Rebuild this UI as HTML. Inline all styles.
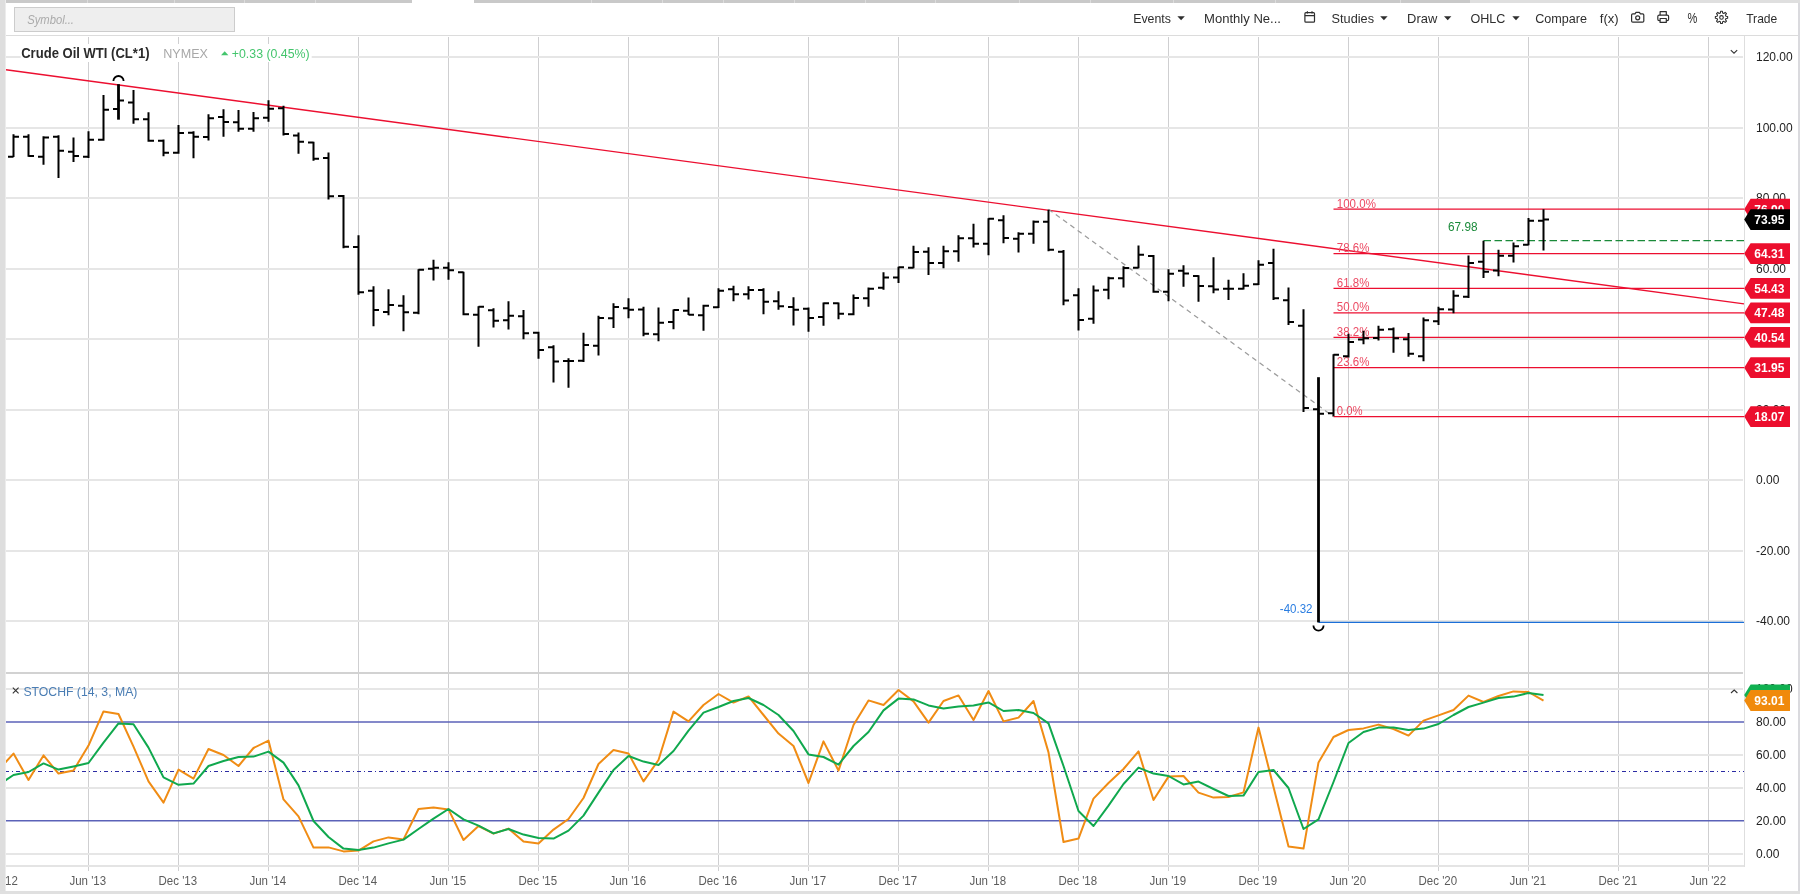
<!DOCTYPE html>
<html lang="en"><head><meta charset="utf-8"><title>Crude Oil WTI (CL*1) chart</title>
<style>html,body{margin:0;padding:0;background:#fff;overflow:hidden}svg{display:block;will-change:transform;opacity:.9999}</style>
</head><body>
<svg width="1800" height="894" viewBox="0 0 1800 894" font-family='"Liberation Sans", Arial, sans-serif'>
<rect width="1800" height="894" fill="#fff"/>
<g shape-rendering="crispEdges">
<rect x="88" y="37" width="1" height="834" fill="#cfcfd1"/>
<rect x="178" y="37" width="1" height="834" fill="#cfcfd1"/>
<rect x="268" y="37" width="1" height="834" fill="#cfcfd1"/>
<rect x="358" y="37" width="1" height="834" fill="#cfcfd1"/>
<rect x="448" y="37" width="1" height="834" fill="#cfcfd1"/>
<rect x="538" y="37" width="1" height="834" fill="#cfcfd1"/>
<rect x="628" y="37" width="1" height="834" fill="#cfcfd1"/>
<rect x="718" y="37" width="1" height="834" fill="#cfcfd1"/>
<rect x="808" y="37" width="1" height="834" fill="#cfcfd1"/>
<rect x="898" y="37" width="1" height="834" fill="#cfcfd1"/>
<rect x="988" y="37" width="1" height="834" fill="#cfcfd1"/>
<rect x="1078" y="37" width="1" height="834" fill="#cfcfd1"/>
<rect x="1168" y="37" width="1" height="834" fill="#cfcfd1"/>
<rect x="1258" y="37" width="1" height="834" fill="#cfcfd1"/>
<rect x="1348" y="37" width="1" height="834" fill="#cfcfd1"/>
<rect x="1438" y="37" width="1" height="834" fill="#cfcfd1"/>
<rect x="1528" y="37" width="1" height="834" fill="#cfcfd1"/>
<rect x="1618" y="37" width="1" height="834" fill="#cfcfd1"/>
<rect x="1708" y="37" width="1" height="834" fill="#cfcfd1"/>
<rect x="6" y="56" width="1737" height="2" fill="#e6e6e6"/>
<rect x="6" y="127" width="1737" height="2" fill="#e6e6e6"/>
<rect x="6" y="197" width="1737" height="2" fill="#e6e6e6"/>
<rect x="6" y="268" width="1737" height="2" fill="#e6e6e6"/>
<rect x="6" y="338" width="1737" height="2" fill="#e6e6e6"/>
<rect x="6" y="409" width="1737" height="2" fill="#e6e6e6"/>
<rect x="6" y="479" width="1737" height="2" fill="#e6e6e6"/>
<rect x="6" y="550" width="1737" height="2" fill="#e6e6e6"/>
<rect x="6" y="620" width="1737" height="2" fill="#e6e6e6"/>
<rect x="6" y="688" width="1737" height="2" fill="#e6e6e6"/>
<rect x="6" y="754" width="1737" height="2" fill="#e6e6e6"/>
<rect x="6" y="787" width="1737" height="2" fill="#e6e6e6"/>
<rect x="6" y="853" width="1737" height="2" fill="#e6e6e6"/>
<rect x="6" y="672" width="1737" height="2" fill="#d2d2d2"/>
<rect x="6" y="865" width="1738" height="2" fill="#e4e4e4"/>
<rect x="1744" y="36" width="1" height="831" fill="#dedede"/>
</g>
<line x1="6" x2="1744" y1="721.9" y2="721.9" stroke="#5b62b8" stroke-width="1.5"/>
<line x1="6" x2="1744" y1="820.7" y2="820.7" stroke="#5b62b8" stroke-width="1.5"/>
<line x1="5" x2="1744" y1="771.5" y2="771.5" stroke="#2c2ca4" stroke-width="1.1" stroke-dasharray="4 3 1 3"/>
<line x1="6" y1="69.8" x2="1744" y2="303.9" stroke="#ec0f30" stroke-width="1.4"/>
<line x1="1048.5" y1="209.23" x2="1333.5" y2="416.60" stroke="#9c9c9c" stroke-width="1.25" stroke-dasharray="5 4"/>
<line x1="1333.5" x2="1744" y1="209.23" y2="209.23" stroke="#ec0f30" stroke-width="1.25"/>
<text x="1336.8" y="207.63" font-size="12.4" fill="#ec4a63" textLength="39.1" lengthAdjust="spacingAndGlyphs">100.0%</text>
<line x1="1333.5" x2="1744" y1="253.61" y2="253.61" stroke="#ec0f30" stroke-width="1.25"/>
<text x="1336.8" y="252.01" font-size="12.4" fill="#ec4a63" textLength="32.6" lengthAdjust="spacingAndGlyphs">78.6%</text>
<line x1="1333.5" x2="1744" y1="288.43" y2="288.43" stroke="#ec0f30" stroke-width="1.25"/>
<text x="1336.8" y="286.83" font-size="12.4" fill="#ec4a63" textLength="32.6" lengthAdjust="spacingAndGlyphs">61.8%</text>
<line x1="1333.5" x2="1744" y1="312.93" y2="312.93" stroke="#ec0f30" stroke-width="1.25"/>
<text x="1336.8" y="311.33" font-size="12.4" fill="#ec4a63" textLength="32.6" lengthAdjust="spacingAndGlyphs">50.0%</text>
<line x1="1333.5" x2="1744" y1="337.40" y2="337.40" stroke="#ec0f30" stroke-width="1.25"/>
<text x="1336.8" y="335.80" font-size="12.4" fill="#ec4a63" textLength="32.6" lengthAdjust="spacingAndGlyphs">38.2%</text>
<line x1="1333.5" x2="1744" y1="367.68" y2="367.68" stroke="#ec0f30" stroke-width="1.25"/>
<text x="1336.8" y="366.08" font-size="12.4" fill="#ec4a63" textLength="32.6" lengthAdjust="spacingAndGlyphs">23.6%</text>
<line x1="1333.5" x2="1744" y1="416.60" y2="416.60" stroke="#ec0f30" stroke-width="1.25"/>
<text x="1336.8" y="415.00" font-size="12.4" fill="#ec4a63" textLength="25.8" lengthAdjust="spacingAndGlyphs">0.0%</text>
<line x1="1483.5" x2="1744" y1="240.67" y2="240.67" stroke="#1a8a3a" stroke-width="1.2" stroke-dasharray="7.5 3.5"/>
<text x="1477.5" y="230.8" font-size="12.4" fill="#1a8a3a" text-anchor="end" textLength="29.5" lengthAdjust="spacingAndGlyphs">67.98</text>
<line x1="1318.5" x2="1744" y1="622.43" y2="622.43" stroke="#1b6fd8" stroke-width="1.3"/>
<text x="1312.5" y="612.6" font-size="12.4" fill="#2a7de1" text-anchor="end" textLength="32.7" lengthAdjust="spacingAndGlyphs">-40.32</text>
<path d="M13.5 134.17V157M8 156.67H13.5M13.5 136.67H19M28.5 134.17V156.67M23 136.67H28.5M28.5 156H34M43.5 136.33V164.67M38 156.67H43.5M43.5 137.5H49M58.5 135.33V178M53 136.67H58.5M58.5 150.83H64M73.5 137.5V162M68 151.67H73.5M73.5 156H79M88.5 131.17V158M83 156.67H88.5M88.5 139.67H94M103.5 95V140.83M98 139.67H103.5M103.5 109.67H109M133.5 90V123.67M128 102.5H133.5M133.5 119.33H139M148.5 112.17V141.67M143 119.33H148.5M148.5 140.83H154M163.5 139.5V156.33M158 140.67H163.5M163.5 152.83H169M178.5 125V153.83M173 152.83H178.5M178.5 133H184M193.5 131.17V158.33M188 132.67H193.5M193.5 136.67H199M208.5 114.17V140.5M203 137H208.5M208.5 118.33H214M223.5 109.33V136.67M218 117H223.5M223.5 122H229M238.5 110V131.67M233 122.17H238.5M238.5 128.67H244M253.5 112V131.67M248 128.67H253.5M253.5 118.17H259M268.5 100.33V121.67M263 117.67H268.5M268.5 108.67H274M283.5 105.83V135.5M278 108.33H283.5M283.5 134H289M298.5 132.5V153.67M293 135.5H298.5M298.5 141.67H304M313.5 141.67V160.83M308 142.5H313.5M313.5 158.67H319M328.5 152.5V199.5M323 158H328.5M328.5 196.33H334M343.5 195V248.33M338 196H343.5M343.5 246.67H349M358.5 235.33V294.67M353 247H358.5M358.5 292.17H364M373.5 286.33V326.17M368 290.83H373.5M373.5 310H379M388.5 289.17V315.33M383 312H388.5M388.5 305H394M403.5 295.33V331.33M398 305.67H403.5M403.5 312.17H409M418.5 269.17V314.17M413 312.83H418.5M418.5 269.67H424M433.5 259.67V280.5M428 268.83H433.5M433.5 267.83H439M448.5 262.17V279.67M443 267.67H448.5M448.5 270.33H454M463.5 271.67V315.33M458 272.17H463.5M463.5 314.17H469M478.5 306.17V346.67M473 314.83H478.5M478.5 306.67H484M493.5 308.33V327.5M488 310.33H493.5M493.5 320.83H499M508.5 301.17V329.5M503 320.17H508.5M508.5 315.67H514M523.5 310V339.17M518 316.33H523.5M523.5 333.33H529M538.5 331.67V358.83M533 332.83H538.5M538.5 350H544M553.5 345.33V382.5M548 347.17H553.5M553.5 361.5H559M568.5 358.33V387.83M563 361H568.5M568.5 361H574M583.5 332.83V362M578 360.67H583.5M583.5 345H589M598.5 315.83V355.5M593 345.83H598.5M598.5 318H604M613.5 303.33V328M608 318.33H613.5M613.5 307H619M628.5 298.33V318.33M623 308.17H628.5M628.5 309.67H634M643.5 306.67V336.33M638 309.5H643.5M643.5 333.67H649M658.5 307.5V341.33M653 334.33H658.5M658.5 322.67H664M673.5 309.5V329.17M668 322H673.5M673.5 310H679M688.5 297.5V315M683 310.67H688.5M688.5 314.67H694M703.5 304.67V330.83M698 315.17H703.5M703.5 305.83H709M718.5 288.33V308M713 307.33H718.5M718.5 290.83H724M733.5 285.83V301.17M728 289.17H733.5M733.5 294.17H739M748.5 286.33V299.5M743 294.17H748.5M748.5 290H754M763.5 288.33V314.17M758 290H763.5M763.5 301.67H769M778.5 291.17V309.67M773 301.17H778.5M778.5 306.17H784M793.5 297.33V325.5M788 307H793.5M793.5 309.67H799M808.5 307.5V331.67M803 308.67H808.5M808.5 318H814M823.5 302.5V325.83M818 317H823.5M823.5 303.33H829M838.5 302.5V319.17M833 303.33H838.5M838.5 313.83H844M853.5 294.5V315.33M848 314.17H853.5M853.5 298H859M868.5 287.5V306.67M863 298.33H868.5M868.5 288.67H874M883.5 272.17V289.67M878 287.67H883.5M883.5 277.5H889M898.5 266.67V283M893 277.5H898.5M898.5 267.17H904M913.5 245.83V268.33M908 267.67H913.5M913.5 252H919M928.5 247.17V275M923 251.67H928.5M928.5 263H934M943.5 245.83V268.33M938 263H943.5M943.5 251.17H949M958.5 235.33V261.67M953 251.33H958.5M958.5 238.33H964M973.5 223.67V247.5M968 238.33H973.5M973.5 243.83H979M988.5 218.33V255.33M983 243.67H988.5M988.5 218.83H994M1003.5 215.33V243.33M998 220.33H1003.5M1003.5 238H1009M1018.5 232.17V252.5M1013 238.83H1018.5M1018.5 233.83H1024M1033.5 220.5V243.83M1028 233.83H1033.5M1033.5 221.67H1039M1048.5 209.67V251.17M1043 221.67H1048.5M1048.5 249.67H1054M1063.5 250V305.33M1058 251.67H1063.5M1063.5 300.5H1069M1078.5 288.33V330.5M1073 295.17H1078.5M1078.5 320H1084M1093.5 285.5V323.67M1088 318.83H1093.5M1093.5 290.5H1099M1108.5 276.67V299.17M1103 289.67H1108.5M1108.5 278.33H1114M1123.5 266.33V287.5M1118 278.33H1123.5M1123.5 268H1129M1138.5 245.5V268.33M1133 267.83H1138.5M1138.5 254.67H1144M1153.5 255V292.83M1148 256H1153.5M1153.5 291.67H1159M1168.5 269.17V301.33M1163 291.83H1168.5M1168.5 273.67H1174M1183.5 265.33V286.67M1178 270.83H1183.5M1183.5 273.5H1189M1198.5 275.33V301.67M1193 276H1198.5M1198.5 286H1204M1213.5 257.17V293.33M1208 286.17H1213.5M1213.5 289.5H1219M1228.5 279.67V300M1223 288.67H1228.5M1228.5 288.67H1234M1243.5 273.33V289.5M1238 288.83H1243.5M1243.5 285.83H1249M1258.5 260.33V285M1253 284.33H1258.5M1258.5 264.67H1264M1273.5 248.83V300M1268 263H1273.5M1273.5 298.33H1279M1288.5 287.5V325M1283 300.33H1288.5M1288.5 322H1294M1303.5 309.17V412M1298 325.83H1303.5M1303.5 408H1309M1333.5 354.17V416.33M1328 413.33H1333.5M1333.5 354.67H1339M1348.5 333.67V357.5M1343 356.33H1348.5M1348.5 342H1354M1363.5 330.83V344.17M1358 339.5H1363.5M1363.5 338.33H1369M1378.5 325.83V340.5M1373 338H1378.5M1378.5 329.67H1384M1393.5 327.5V352.83M1388 329.17H1393.5M1393.5 338.33H1399M1408.5 333V356.67M1403 339.17H1408.5M1408.5 353.83H1414M1423.5 317.5V361.33M1418 356.17H1423.5M1423.5 320.33H1429M1438.5 306.67V325M1433 321.33H1438.5M1438.5 309.17H1444M1453.5 290.33V313.33M1448 309.5H1453.5M1453.5 295.83H1459M1468.5 255.5V298M1463 296.67H1468.5M1468.5 263H1474M1483.5 240.83V278M1478 261.67H1483.5M1483.5 271.67H1489M1498.5 249.67V276.33M1493 270.5H1498.5M1498.5 255.83H1504M1513.5 242.5V262.5M1508 255.83H1513.5M1513.5 246.33H1519M1528.5 218V245.33M1523 244.67H1528.5M1528.5 220.83H1534M1543.5 209.17V250.5M1538 220.83H1543.5M1543.5 219.5H1549" stroke="#000" stroke-width="2" fill="none"/>
<path d="M118.5 84.17V119.67" stroke="#000" stroke-width="2.8" fill="none"/>
<path d="M113 109H118.5M118.5 100.5H124" stroke="#000" stroke-width="2" fill="none"/>
<path d="M1318.5 377.2V622.4" stroke="#000" stroke-width="2.8" fill="none"/>
<path d="M1313 409.2H1318.5M1318.5 413.7H1324" stroke="#000" stroke-width="2" fill="none"/>
<path d="M113.4 81.1A5.1 5.1 0 0 1 123.6 81.1" stroke="#000" stroke-width="1.8" fill="none"/>
<path d="M1313.4 625.5A5.1 5.1 0 0 0 1323.6 625.5" stroke="#000" stroke-width="1.8" fill="none"/>
<defs><clipPath id="cl"><rect x="6" y="674" width="1738" height="192"/></clipPath></defs>
<polyline points="-1.5,770 13.5,753.6 28.5,780 43.5,755.4 58.5,773.6 73.5,770.4 88.5,745.6 103.5,711.4 118.5,714 133.5,746.6 148.5,781.4 163.5,802.6 178.5,769.6 193.5,778.6 208.5,749 223.5,755 238.5,766 253.5,748 268.5,740.6 283.5,799.4 298.5,816.4 313.5,847.6 328.5,847.4 343.5,851.4 358.5,850.6 373.5,841.4 388.5,837.4 403.5,839.4 418.5,809 433.5,807.4 448.5,809.4 463.5,840 478.5,826 493.5,833.6 508.5,828.6 523.5,841.6 538.5,843.6 553.5,829.6 568.5,819 583.5,798 598.5,764 613.5,750 628.5,753.4 643.5,781.4 658.5,760 673.5,711.6 688.5,721.4 703.5,705 718.5,694 733.5,702.6 748.5,696.4 763.5,715 778.5,733.6 793.5,746 808.5,783 823.5,741.4 838.5,770.6 853.5,725 868.5,700.4 883.5,705 898.5,690 913.5,701.4 928.5,722.6 943.5,701 958.5,695.4 973.5,720 988.5,691 1003.5,721.4 1018.5,717.6 1033.5,701 1048.5,752.4 1063.5,842 1078.5,838.6 1093.5,798.6 1108.5,783 1123.5,769 1138.5,751.4 1153.5,800 1168.5,776.6 1183.5,776 1198.5,792.6 1213.5,797.6 1228.5,797 1243.5,792.4 1258.5,727.6 1273.5,787 1288.5,846.6 1303.5,848.6 1318.5,762.4 1333.5,737 1348.5,730 1363.5,728.4 1378.5,724.6 1393.5,729 1408.5,735.6 1423.5,720.6 1438.5,715.4 1453.5,710 1468.5,695.6 1483.5,702 1498.5,696 1513.5,691.4 1528.5,692 1543.5,700.6" stroke="#f08c14" stroke-width="2" fill="none" stroke-linejoin="round" clip-path="url(#cl)"/>
<polyline points="-1.5,785 13.5,775 28.5,772 43.5,763.4 58.5,769.6 73.5,766.4 88.5,763 103.5,742.6 118.5,723.4 133.5,724.2 148.5,747.6 163.5,777.4 178.5,784.8 193.5,783.6 208.5,766 223.5,761 238.5,757 253.5,756.6 268.5,751.6 283.5,762.6 298.5,785.4 313.5,821 328.5,837 343.5,848.6 358.5,850 373.5,847.6 388.5,843.4 403.5,839.6 418.5,829 433.5,818.6 448.5,809 463.5,819.4 478.5,825.6 493.5,833.4 508.5,829 523.5,834.6 538.5,838 553.5,838.6 568.5,830.6 583.5,815.6 598.5,792.6 613.5,770 628.5,756 643.5,761.6 658.5,765 673.5,751 688.5,730.6 703.5,712.6 718.5,707 733.5,701 748.5,698 763.5,705 778.5,715 793.5,731 808.5,754.4 823.5,757 838.5,764.6 853.5,746 868.5,732 883.5,710.4 898.5,698.6 913.5,699.4 928.5,705.4 943.5,708.6 958.5,706.6 973.5,705.6 988.5,702.4 1003.5,711 1018.5,710 1033.5,713 1048.5,723.4 1063.5,766 1078.5,811 1093.5,826 1108.5,805.6 1123.5,784 1138.5,767.6 1153.5,773.6 1168.5,776 1183.5,784.4 1198.5,781.6 1213.5,789 1228.5,796 1243.5,795.6 1258.5,772 1273.5,770 1288.5,788 1303.5,829 1318.5,819.4 1333.5,782 1348.5,743 1363.5,732 1378.5,727.6 1393.5,727.4 1408.5,730 1423.5,728.6 1438.5,724 1453.5,715 1468.5,707 1483.5,702.6 1498.5,698 1513.5,696.6 1528.5,693 1543.5,695" stroke="#10a84e" stroke-width="2" fill="none" stroke-linejoin="round" clip-path="url(#cl)"/>
<rect x="20.7" y="44" width="291" height="18" fill="#fff"/>
<text x="21.2" y="57.5" font-size="14" font-weight="bold" fill="#2b2b2b" textLength="128.3" lengthAdjust="spacingAndGlyphs">Crude Oil WTI (CL*1)</text>
<text x="163.3" y="57.5" font-size="13.2" fill="#a8a8a8" textLength="44.7" lengthAdjust="spacingAndGlyphs">NYMEX</text>
<path d="M221 55.2L224.7 51.2L228.4 55.2Z" fill="#44c56d"/>
<text x="231.8" y="57.5" font-size="13.4" fill="#44c56d" textLength="77.9" lengthAdjust="spacingAndGlyphs">+0.33 (0.45%)</text>
<path d="M12.8 687.6L18.6 693.4M18.6 687.6L12.8 693.4" stroke="#333" stroke-width="1.1"/>
<text x="23.4" y="696" font-size="13.3" fill="#4a7db4" textLength="114" lengthAdjust="spacingAndGlyphs">STOCHF (14, 3, MA)</text>
<path d="M1730.8 50.2L1734 53.2L1737.2 50.2" stroke="#333" stroke-width="1.1" fill="none"/>
<path d="M1731 693L1734.2 690L1737.4 693" stroke="#333" stroke-width="1.1" fill="none"/>
<text x="1756" y="61.1" font-size="12" fill="#222">120.00</text>
<text x="1756" y="131.6" font-size="12" fill="#222">100.00</text>
<text x="1756" y="202.1" font-size="12" fill="#222">80.00</text>
<text x="1756" y="272.6" font-size="12" fill="#222">60.00</text>
<text x="1756" y="343.1" font-size="12" fill="#222">40.00</text>
<text x="1756" y="413.6" font-size="12" fill="#222">20.00</text>
<text x="1756" y="484.1" font-size="12" fill="#222">0.00</text>
<text x="1756" y="554.6" font-size="12" fill="#222">-20.00</text>
<text x="1756" y="625.1" font-size="12" fill="#222">-40.00</text>
<text x="1756" y="693.2" font-size="12" fill="#222">100.00</text>
<text x="1756" y="726.1" font-size="12" fill="#222">80.00</text>
<text x="1756" y="759.0" font-size="12" fill="#222">60.00</text>
<text x="1756" y="792.0" font-size="12" fill="#222">40.00</text>
<text x="1756" y="824.9" font-size="12" fill="#222">20.00</text>
<text x="1756" y="857.8" font-size="12" fill="#222">0.00</text>
<path d="M1744.2 209.2L1750.6 198.8H1790V219.6H1750.6Z" fill="#ec0e2d"/>
<text x="1769.3" y="213.5" font-size="12" font-weight="bold" fill="#fff" text-anchor="middle">76.90</text>
<path d="M1744.2 253.6L1750.6 243.2H1790V264.0H1750.6Z" fill="#ec0e2d"/>
<text x="1769.3" y="257.9" font-size="12" font-weight="bold" fill="#fff" text-anchor="middle">64.31</text>
<path d="M1744.2 288.4L1750.6 278.0H1790V298.8H1750.6Z" fill="#ec0e2d"/>
<text x="1769.3" y="292.7" font-size="12" font-weight="bold" fill="#fff" text-anchor="middle">54.43</text>
<path d="M1744.2 312.9L1750.6 302.5H1790V323.3H1750.6Z" fill="#ec0e2d"/>
<text x="1769.3" y="317.2" font-size="12" font-weight="bold" fill="#fff" text-anchor="middle">47.48</text>
<path d="M1744.2 337.4L1750.6 327.0H1790V347.8H1750.6Z" fill="#ec0e2d"/>
<text x="1769.3" y="341.7" font-size="12" font-weight="bold" fill="#fff" text-anchor="middle">40.54</text>
<path d="M1744.2 367.7L1750.6 357.3H1790V378.1H1750.6Z" fill="#ec0e2d"/>
<text x="1769.3" y="372.0" font-size="12" font-weight="bold" fill="#fff" text-anchor="middle">31.95</text>
<path d="M1744.2 416.6L1750.6 406.2H1790V427.0H1750.6Z" fill="#ec0e2d"/>
<text x="1769.3" y="420.9" font-size="12" font-weight="bold" fill="#fff" text-anchor="middle">18.07</text>
<path d="M1744.2 219.6L1750.6 209.2H1790V230.0H1750.6Z" fill="#000"/>
<text x="1769.3" y="223.9" font-size="12" font-weight="bold" fill="#fff" text-anchor="middle">73.95</text>
<path d="M1744.2 694.9L1750.6 684.5H1790V705.3H1750.6Z" fill="#10b050"/>
<text x="1769.3" y="699.2" font-size="12" font-weight="bold" fill="#fff" text-anchor="middle">96.41</text>
<path d="M1744.2 700.5L1750.6 690.1H1790V710.9H1750.6Z" fill="#f08a0c"/>
<text x="1769.3" y="704.8" font-size="12" font-weight="bold" fill="#fff" text-anchor="middle">93.01</text>
<text x="87.8" y="885" font-size="12.4" fill="#5c5c5c" text-anchor="middle" textLength="36.7" lengthAdjust="spacingAndGlyphs">Jun '13</text>
<text x="177.8" y="885" font-size="12.4" fill="#5c5c5c" text-anchor="middle" textLength="38.6" lengthAdjust="spacingAndGlyphs">Dec '13</text>
<text x="267.8" y="885" font-size="12.4" fill="#5c5c5c" text-anchor="middle" textLength="36.7" lengthAdjust="spacingAndGlyphs">Jun '14</text>
<text x="357.8" y="885" font-size="12.4" fill="#5c5c5c" text-anchor="middle" textLength="38.6" lengthAdjust="spacingAndGlyphs">Dec '14</text>
<text x="447.8" y="885" font-size="12.4" fill="#5c5c5c" text-anchor="middle" textLength="36.7" lengthAdjust="spacingAndGlyphs">Jun '15</text>
<text x="537.8" y="885" font-size="12.4" fill="#5c5c5c" text-anchor="middle" textLength="38.6" lengthAdjust="spacingAndGlyphs">Dec '15</text>
<text x="627.8" y="885" font-size="12.4" fill="#5c5c5c" text-anchor="middle" textLength="36.7" lengthAdjust="spacingAndGlyphs">Jun '16</text>
<text x="717.8" y="885" font-size="12.4" fill="#5c5c5c" text-anchor="middle" textLength="38.6" lengthAdjust="spacingAndGlyphs">Dec '16</text>
<text x="807.8" y="885" font-size="12.4" fill="#5c5c5c" text-anchor="middle" textLength="36.7" lengthAdjust="spacingAndGlyphs">Jun '17</text>
<text x="897.8" y="885" font-size="12.4" fill="#5c5c5c" text-anchor="middle" textLength="38.6" lengthAdjust="spacingAndGlyphs">Dec '17</text>
<text x="987.8" y="885" font-size="12.4" fill="#5c5c5c" text-anchor="middle" textLength="36.7" lengthAdjust="spacingAndGlyphs">Jun '18</text>
<text x="1077.8" y="885" font-size="12.4" fill="#5c5c5c" text-anchor="middle" textLength="38.6" lengthAdjust="spacingAndGlyphs">Dec '18</text>
<text x="1167.8" y="885" font-size="12.4" fill="#5c5c5c" text-anchor="middle" textLength="36.7" lengthAdjust="spacingAndGlyphs">Jun '19</text>
<text x="1257.8" y="885" font-size="12.4" fill="#5c5c5c" text-anchor="middle" textLength="38.6" lengthAdjust="spacingAndGlyphs">Dec '19</text>
<text x="1347.8" y="885" font-size="12.4" fill="#5c5c5c" text-anchor="middle" textLength="36.7" lengthAdjust="spacingAndGlyphs">Jun '20</text>
<text x="1437.8" y="885" font-size="12.4" fill="#5c5c5c" text-anchor="middle" textLength="38.6" lengthAdjust="spacingAndGlyphs">Dec '20</text>
<text x="1527.8" y="885" font-size="12.4" fill="#5c5c5c" text-anchor="middle" textLength="36.7" lengthAdjust="spacingAndGlyphs">Jun '21</text>
<text x="1617.8" y="885" font-size="12.4" fill="#5c5c5c" text-anchor="middle" textLength="38.6" lengthAdjust="spacingAndGlyphs">Dec '21</text>
<text x="1707.8" y="885" font-size="12.4" fill="#5c5c5c" text-anchor="middle" textLength="36.7" lengthAdjust="spacingAndGlyphs">Jun '22</text>
<text x="-1.5" y="885" font-size="12.4" fill="#5c5c5c" text-anchor="middle" clip-path="url(#cx)" textLength="38.6" lengthAdjust="spacingAndGlyphs">Dec '12</text>
<defs><clipPath id="cx"><rect x="6" y="870" width="100" height="22"/></clipPath></defs>
<rect x="0" y="3" width="1800" height="32" fill="#fff"/>
<g shape-rendering="crispEdges">
<rect x="6" y="35" width="1792" height="1" fill="#dcdcdc"/>
<rect x="5" y="0" width="407" height="3" fill="#c9c9c9"/>
<rect x="474" y="0" width="996" height="3" fill="#c9c9c9"/>
<rect x="1470" y="0" width="330" height="3" fill="#dfdfdf"/>
<rect x="87" y="0" width="1" height="3" fill="#dcdcdc"/>
<rect x="174" y="0" width="1" height="3" fill="#dcdcdc"/>
<rect x="244" y="0" width="1" height="3" fill="#dcdcdc"/>
<rect x="315" y="0" width="1" height="3" fill="#dcdcdc"/>
<rect x="591" y="0" width="1" height="3" fill="#dcdcdc"/>
<rect x="662" y="0" width="1" height="3" fill="#dcdcdc"/>
<rect x="723" y="0" width="1" height="3" fill="#dcdcdc"/>
<rect x="794" y="0" width="1" height="3" fill="#dcdcdc"/>
<rect x="865" y="0" width="1" height="3" fill="#dcdcdc"/>
<rect x="935" y="0" width="1" height="3" fill="#dcdcdc"/>
<rect x="1019" y="0" width="1" height="3" fill="#dcdcdc"/>
<rect x="1090" y="0" width="1" height="3" fill="#dcdcdc"/>
<rect x="1173" y="0" width="1" height="3" fill="#dcdcdc"/>
<rect x="1275" y="0" width="1" height="3" fill="#dcdcdc"/>
<rect x="1400" y="0" width="1" height="3" fill="#dcdcdc"/>
<rect x="0" y="0" width="5" height="894" fill="#dedede"/>
<rect x="5" y="0" width="1" height="894" fill="#ececec"/>
<rect x="1798" y="3" width="2" height="891" fill="#dadade"/>
<rect x="0" y="891" width="1800" height="3" fill="#e0e0e0"/>
</g>
<rect x="14.5" y="7.5" width="220" height="24" fill="#eeeeee" stroke="#cccccc" stroke-width="1"/>
<text x="27.2" y="23.8" font-size="13" font-style="italic" fill="#aaa" textLength="46.8" lengthAdjust="spacingAndGlyphs">Symbol...</text>
<text x="1133.2" y="22.9" font-size="13" fill="#2e2e2e" textLength="37.8" lengthAdjust="spacingAndGlyphs">Events</text>
<path d="M1177.3999999999999 16.2h7.4l-3.7 4.1Z" fill="#2e2e2e"/>
<text x="1204" y="22.9" font-size="13" fill="#2e2e2e" textLength="77" lengthAdjust="spacingAndGlyphs">Monthly Ne...</text>
<text x="1331.6" y="22.9" font-size="13" fill="#2e2e2e" textLength="42.4" lengthAdjust="spacingAndGlyphs">Studies</text>
<path d="M1380.2 16.2h7.4l-3.7 4.1Z" fill="#2e2e2e"/>
<text x="1407.1" y="22.9" font-size="13" fill="#2e2e2e" textLength="30.2" lengthAdjust="spacingAndGlyphs">Draw</text>
<path d="M1444.0 16.2h7.4l-3.7 4.1Z" fill="#2e2e2e"/>
<text x="1470.4" y="22.9" font-size="13" fill="#2e2e2e" textLength="34.9" lengthAdjust="spacingAndGlyphs">OHLC</text>
<path d="M1512.3 16.2h7.4l-3.7 4.1Z" fill="#2e2e2e"/>
<text x="1535.2" y="22.9" font-size="13" fill="#2e2e2e" textLength="51.8" lengthAdjust="spacingAndGlyphs">Compare</text>
<text x="1599.8" y="22.9" font-size="13" fill="#2e2e2e" textLength="18.9" lengthAdjust="spacingAndGlyphs">f(x)</text>
<text x="1687.5" y="22.9" font-size="14.3" fill="#2e2e2e" textLength="9.8" lengthAdjust="spacingAndGlyphs">%</text>
<text x="1746.2" y="22.9" font-size="13" fill="#2e2e2e" textLength="31.1" lengthAdjust="spacingAndGlyphs">Trade</text>
<g fill="none" stroke="#2e2e2e" stroke-width="1.2"><rect x="1304.9" y="12.7" width="9.6" height="9.5" rx="1"/><path d="M1304.9 15.6H1314.5M1307.4 11.2V13.4M1312 11.2V13.4"/></g>
<g fill="none" stroke="#2e2e2e" stroke-width="1.2"><path d="M1632.8 13.9h2.2l1-1.5h3.4l1 1.5h2.2a1.2 1.2 0 0 1 1.2 1.2v5.8a1.2 1.2 0 0 1 -1.2 1.2h-9.8a1.2 1.2 0 0 1 -1.2 -1.2v-5.8a1.2 1.2 0 0 1 1.2 -1.2z" stroke-linejoin="round"/><circle cx="1637.7" cy="17.8" r="2"/></g>
<g fill="none" stroke="#2e2e2e" stroke-width="1.2" stroke-linejoin="round"><path d="M1660.1 15.2V11.7h6.2V15.2"/><rect x="1657.8" y="15.2" width="10.8" height="5.4" rx="1.4"/><rect x="1660.1" y="18.5" width="6.2" height="3.9" fill="#fff"/></g>
<polygon points="1720.39,12.94 1720.58,11.27 1722.42,11.27 1722.61,12.94 1723.87,13.46 1725.19,12.42 1726.48,13.71 1725.44,15.03 1725.96,16.29 1727.63,16.48 1727.63,18.32 1725.96,18.51 1725.44,19.77 1726.48,21.09 1725.19,22.38 1723.87,21.34 1722.61,21.86 1722.42,23.53 1720.58,23.53 1720.39,21.86 1719.13,21.34 1717.81,22.38 1716.52,21.09 1717.56,19.77 1717.04,18.51 1715.37,18.32 1715.37,16.48 1717.04,16.29 1717.56,15.03 1716.52,13.71 1717.81,12.42 1719.13,13.46" fill="none" stroke="#2e2e2e" stroke-width="1.1" stroke-linejoin="round"/>
<circle cx="1721.5" cy="17.4" r="1.8" fill="none" stroke="#2e2e2e" stroke-width="1.1"/>
</svg>
</body></html>
